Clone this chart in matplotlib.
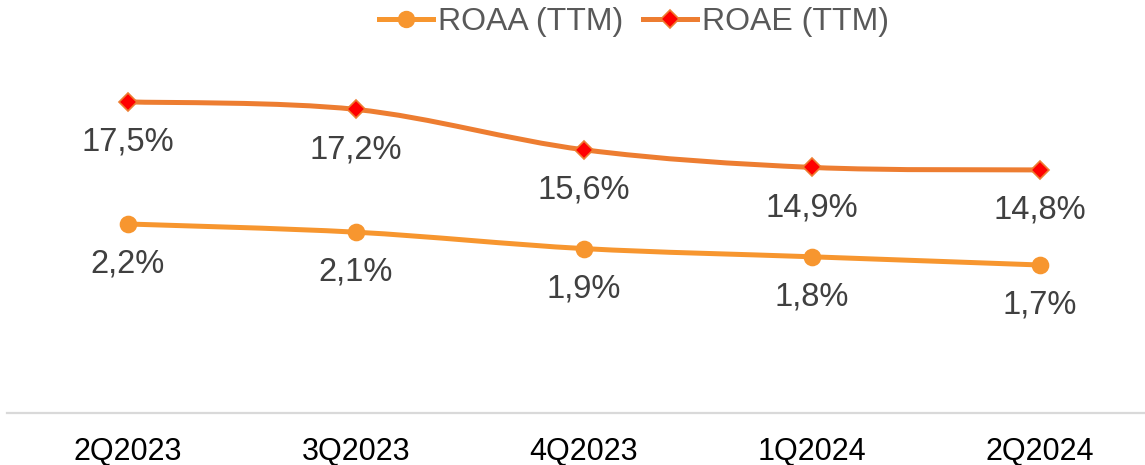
"""ROAA and ROAE (TTM) by quarter."""

import matplotlib
matplotlib.use("Agg")
import matplotlib.pyplot as plt
from matplotlib.lines import Line2D
from matplotlib.path import Path
from matplotlib.patches import PathPatch

quarters = ["2Q2023", "3Q2023", "4Q2023", "1Q2024", "2Q2024"]
roaa = [2.2, 2.1, 1.9, 1.8, 1.7]
roae = [17.5, 17.2, 15.6, 14.9, 14.8]

ROAA_COLOR = "#F7962F"
ROAE_COLOR = "#ED7D31"

plt.rcParams["font.family"] = ["Liberation Sans", "DejaVu Sans"]


def smooth_path(xs, ys):
    """Bezier path through the points, similar to a smoothed line in Excel."""
    pts = list(zip(xs, ys))
    n = len(pts)
    verts = [pts[0]]
    codes = [Path.MOVETO]
    for i in range(n - 1):
        p0 = pts[max(i - 1, 0)]
        p1 = pts[i]
        p2 = pts[i + 1]
        p3 = pts[min(i + 2, n - 1)]
        c1 = (p1[0] + (p2[0] - p0[0]) / 6, p1[1] + (p2[1] - p0[1]) / 6)
        c2 = (p2[0] - (p3[0] - p1[0]) / 6, p2[1] - (p3[1] - p1[1]) / 6)
        verts += [c1, c2, p2]
        codes += [Path.CURVE4] * 3
    return Path(verts, codes)


def draw_series(ax, values, color, marker, msize, mface, mecolor):
    xs = list(range(len(values)))
    ax.add_patch(PathPatch(smooth_path(xs, values), fill=False,
                           edgecolor=color, linewidth=3.6,
                           capstyle="round", zorder=2))
    ax.plot(xs, values, linestyle="none", marker=marker, markersize=msize,
            markerfacecolor=mface, markeredgecolor=mecolor,
            markeredgewidth=1.2, zorder=3)
    for x, v in zip(xs, values):
        ax.annotate(f"{v:.1f}%".replace(".", ","), (x, v),
                    xytext=(0, -29), textcoords="offset points",
                    ha="center", va="center", fontsize=23.5,
                    color="#404040", zorder=4)


fig = plt.figure(figsize=(11.45, 4.65), dpi=100)
ax = fig.add_axes([14 / 1145, 52 / 465, 1140 / 1145, 353 / 465])
ax2 = ax.twinx()

draw_series(ax, roae, ROAE_COLOR, "D", 9, "#FF0000", ROAE_COLOR)
draw_series(ax2, roaa, ROAA_COLOR, "o", 11.5, ROAA_COLOR, ROAA_COLOR)

ax.set_xlim(-0.5, len(quarters) - 0.5)
ax.set_ylim(5.16, 19.16)
ax2.set_ylim(-0.105, 4.2)

ax.set_xticks(range(len(quarters)))
ax.set_xticklabels(quarters, fontsize=22, color="black")
ax.tick_params(axis="x", length=0, pad=17)
for a in (ax, ax2):
    a.set_yticks([])
    for side in ("top", "left", "right", "bottom"):
        a.spines[side].set_visible(False)
ax.spines["bottom"].set_visible(True)
ax.spines["bottom"].set_color("#D9D9D9")
ax.spines["bottom"].set_linewidth(1.6)
ax.spines["bottom"].set_bounds(-0.53, len(quarters) - 0.5)

handles = [
    Line2D([], [], color=ROAA_COLOR, linewidth=3.6, marker="o",
           markersize=11.5, markerfacecolor=ROAA_COLOR,
           markeredgecolor=ROAA_COLOR),
    Line2D([], [], color=ROAE_COLOR, linewidth=3.6, marker="D",
           markersize=9, markerfacecolor="#FF0000",
           markeredgecolor=ROAE_COLOR, markeredgewidth=1.2),
]
fig.legend(handles, ["ROAA (TTM)", "ROAE (TTM)"], loc="center",
           bbox_to_anchor=(634 / 1145, 1 - 22 / 465), ncol=2, frameon=False,
           fontsize=23, labelcolor="#595959", handlelength=1.7,
           handletextpad=0.15, columnspacing=0.6, borderaxespad=0)

fig.savefig("out.png", dpi=100)
